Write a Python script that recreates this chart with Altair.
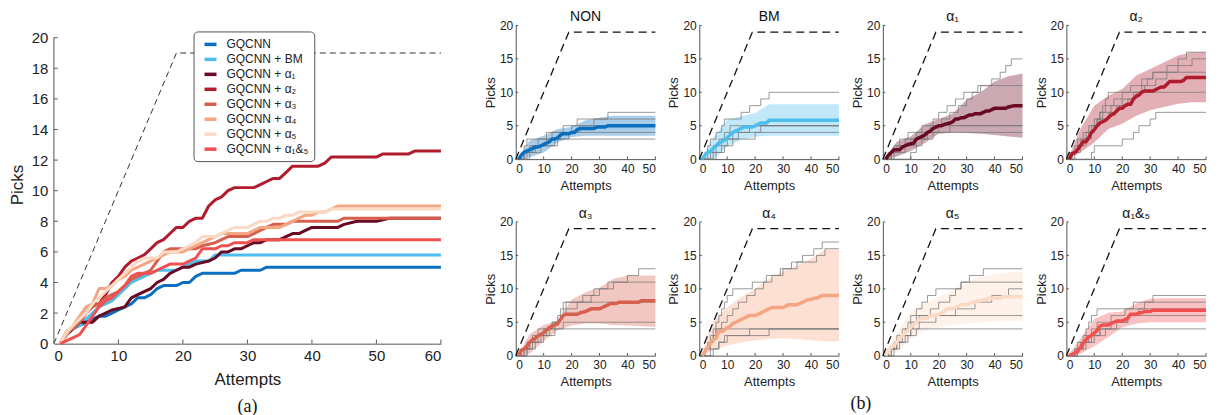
import altair as alt
import pandas as pd

FONT = "Liberation Sans"

# ---------------- series definitions ----------------
series_names = ["GQCNN", "GQCNN + BM", "GQCNN + α₁", "GQCNN + α₂", "GQCNN + α₃",
                "GQCNN + α₄", "GQCNN + α₅", "GQCNN + α₁&₅"]
series_colors = ["#0b6fbf", "#4dbdee", "#6a0a22", "#b01c2e", "#d6604d",
                 "#f4a582", "#fcd9c4", "#f0504f"]
panel_titles = ["NON", "BM", "α₁", "α₂", "α₃", "α₄", "α₅", "α₁&₅"]

# axis tick values
a_xticks = [0, 10, 20, 30, 40, 50, 60]
a_yticks = [0, 2, 4, 6, 8, 10, 12, 14, 16, 18, 20]
b_xticks = [0, 10, 20, 30, 40, 50]
b_yticks = [0, 5, 10, 15, 20]

# optimal (dashed) curve
opt_x_a = [0, 19, 60]
opt_y_a = [0, 19, 19]
opt_x_b = [0, 19, 50]
opt_y_b = [0, 19, 19]

# mean picks vs attempts (breakpoints)
gq_x = [1, 2, 3, 4, 5, 6, 7, 8, 9, 10, 11, 12, 13, 14, 15, 16, 17, 19, 20, 21, 22, 23, 28, 29, 32, 33, 50, 60]
gq_y = [0, 0.6, 1.0, 1.2, 1.4, 1.6, 1.8, 1.8, 2.0, 2.2, 2.4, 2.6, 3.0, 3.0, 3.2, 3.6, 3.8, 3.8, 4.0, 4.0, 4.4, 4.6,
        4.6, 4.8, 4.8, 5.0, 5.0, 5.0]

bm_x = [1, 2, 3, 4, 5, 6, 7, 8, 9, 10, 11, 12, 13, 14, 15, 16, 19, 20, 21, 22, 24, 25, 50, 60]
bm_y = [0, 0.6, 1.0, 1.2, 1.6, 2.0, 2.4, 2.6, 2.8, 3.2, 3.6, 4.0, 4.2, 4.4, 4.6, 4.8, 4.8, 5.0, 5.2, 5.4, 5.4, 5.8,
        5.8, 5.8]

a1_x = [1, 2, 3, 4, 6, 7, 8, 9, 11, 12, 13, 14, 15, 16, 17, 18, 19, 20, 21, 22, 24, 25, 26, 27, 28, 29, 30, 31,
        32, 33, 35, 36, 37, 38, 39, 40, 44, 45, 47, 50, 52, 60]
a1_y = [0, 0.6, 1.0, 1.4, 1.4, 1.8, 2.0, 2.2, 2.4, 3.0, 3.2, 3.4, 3.6, 4.0, 4.2, 4.6, 4.8, 5.0, 5.0, 5.2, 5.4, 5.6,
        6.0, 6.0, 6.2, 6.2, 6.4, 6.6, 6.6, 6.8, 6.8, 7.0, 7.2, 7.2, 7.4, 7.6, 7.6, 7.8, 8.0, 8.0, 8.2, 8.2]

a2_x = [1, 2, 3, 4, 5, 6, 7, 8, 9, 10, 11, 12, 13, 14, 15, 16, 17, 18, 19, 20, 21, 22, 23, 24, 25, 26, 27, 28,
        31, 32, 33, 34, 35, 36, 37, 41, 42, 43, 50, 51, 55, 56, 60]
a2_y = [0, 0.8, 1.0, 1.4, 2.0, 2.6, 2.6, 3.2, 4.0, 4.4, 5.0, 5.4, 5.6, 5.8, 6.2, 6.6, 6.8, 7.2, 7.6, 7.6, 8.0,
        8.2, 8.2, 9.0, 9.4, 9.6, 10.0, 10.2, 10.2, 10.4, 10.6, 10.8, 10.8, 11.2, 11.6, 11.6, 11.8, 12.2, 12.2,
        12.4, 12.4, 12.6, 12.6]

a3_x = [1, 2, 3, 4, 5, 6, 7, 8, 9, 10, 11, 12, 13, 14, 15, 16, 17, 18, 22, 23, 25, 26, 27, 30, 31, 32, 33, 34,
        36, 37, 44, 45, 50, 60]
a3_y = [0, 0.8, 1.0, 1.4, 2.0, 2.4, 2.6, 3.0, 3.2, 3.4, 3.8, 4.2, 4.4, 4.6, 4.8, 5.4, 6.0, 6.2, 6.2, 6.4, 6.6,
        6.8, 7.0, 7.0, 7.2, 7.4, 7.6, 7.8, 7.8, 8.0, 8.0, 8.2, 8.2, 8.2]

a4_x = [1, 2, 3, 4, 5, 6, 7, 8, 9, 10, 11, 12, 13, 14, 15, 16, 17, 18, 20, 21, 22, 23, 24, 25, 26, 30, 31, 32,
        35, 36, 37, 38, 39, 40, 41, 42, 43, 44, 50, 60]
a4_y = [0, 0.6, 1.2, 1.8, 2.4, 2.6, 3.6, 3.6, 3.8, 4.2, 4.4, 4.8, 5.0, 5.2, 5.4, 5.6, 5.8, 6.0, 6.0, 6.2, 6.4,
        6.6, 6.8, 7.0, 7.2, 7.2, 7.4, 7.6, 7.6, 7.8, 8.0, 8.2, 8.4, 8.4, 8.6, 8.6, 8.8, 9.0, 9.0, 9.0]

a5_x = [1, 2, 3, 4, 5, 6, 7, 8, 9, 10, 11, 12, 13, 14, 16, 17, 19, 20, 21, 22, 23, 25, 26, 27, 28, 30, 31, 32,
        33, 34, 35, 36, 37, 38, 42, 43, 50, 60]
a5_y = [0, 0.8, 1.2, 1.6, 2.0, 2.6, 3.0, 3.4, 3.8, 4.2, 4.6, 5.0, 5.4, 5.6, 5.6, 6.0, 6.0, 6.2, 6.4, 6.6, 7.0,
        7.0, 7.2, 7.4, 7.6, 7.6, 7.8, 8.0, 8.0, 8.2, 8.2, 8.4, 8.4, 8.6, 8.6, 8.8, 8.8, 8.8]

a15_x = [1, 2, 3, 4, 5, 6, 7, 8, 9, 10, 11, 12, 13, 15, 16, 17, 18, 20, 21, 22, 23, 25, 26, 27, 28, 30, 31, 50, 60]
a15_y = [0, 0.2, 0.4, 0.6, 1.2, 1.8, 2.4, 2.8, 3.0, 3.4, 3.8, 4.4, 4.6, 4.6, 4.8, 5.0, 5.2, 5.2, 5.4, 5.6, 6.2,
         6.2, 6.4, 6.4, 6.6, 6.6, 6.8, 6.8, 6.8]

mean_x = [gq_x, bm_x, a1_x, a2_x, a3_x, a4_x, a5_x, a15_x]
mean_y = [gq_y, bm_y, a1_y, a2_y, a3_y, a4_y, a5_y, a15_y]

# std bands (lower / upper) for panel b
band_x = [1, 5, 10, 15, 20, 25, 30, 35, 40, 45, 50]
non_lo = [0, 0.3, 1.0, 2.5, 3.3, 3.5, 3.5, 3.5, 3.5, 3.5, 3.5]
non_hi = [0.3, 2.8, 3.5, 4.5, 4.8, 5.8, 6.2, 6.5, 6.5, 6.5, 6.5]
bm_lo = [0, 0.0, 1.9, 2.9, 3.4, 3.5, 3.5, 3.5, 3.5, 3.5, 3.5]
bm_hi = [0.3, 3.2, 5.9, 6.4, 6.9, 8.2, 8.2, 8.2, 8.2, 8.2, 8.2]
a1_lo = [0, 0.4, 1.2, 2.4, 3.8, 4.0, 3.9, 3.8, 3.6, 3.4, 3.2]
a1_hi = [0.3, 2.6, 3.4, 5.2, 6.0, 6.8, 8.9, 10.0, 11.6, 12.4, 12.8]
a2_lo = [0, 1.0, 2.5, 4.5, 5.3, 6.5, 7.3, 7.8, 8.3, 8.5, 8.5]
a2_hi = [0.5, 4.5, 8.0, 9.5, 10.5, 12.5, 13.5, 14.5, 15.5, 16.0, 16.0]
a3_lo = [0, 0.3, 2.2, 3.8, 4.5, 4.8, 4.8, 4.6, 4.5, 4.4, 4.3]
a3_hi = [0.3, 3.2, 4.6, 5.2, 8.4, 9.5, 10.2, 11.5, 12.0, 12.0, 12.0]
a4_lo = [0, 0.8, 1.5, 2.0, 2.3, 2.5, 2.6, 2.5, 2.3, 2.1, 2.1]
a4_hi = [0.5, 5.2, 7.2, 8.8, 10.0, 11.5, 12.6, 13.5, 14.5, 15.9, 15.9]
a5_lo = [0, 0.5, 2.5, 3.8, 4.3, 4.6, 4.8, 5.0, 5.1, 5.2, 5.1]
a5_hi = [0.5, 3.5, 6.5, 8.0, 8.8, 9.8, 11.0, 11.8, 12.2, 12.5, 12.5]
a15_lo = [0, 0.3, 1.4, 2.8, 4.2, 4.8, 5.0, 5.0, 5.0, 5.0, 5.0]
a15_hi = [0.3, 2.5, 5.5, 6.4, 6.6, 7.8, 8.5, 8.6, 8.6, 8.6, 8.6]
band_lo = [non_lo, bm_lo, a1_lo, a2_lo, a3_lo, a4_lo, a5_lo, a15_lo]
band_hi = [non_hi, bm_hi, a1_hi, a2_hi, a3_hi, a4_hi, a5_hi, a15_hi]

# individual trials (step breakpoints: attempt, picks)
non_trials = [
    [(0, 0), (2, 1), (3, 2), (4, 3), (11, 4), (17, 5), (22, 6), (33, 7), (50, 7)],
    [(0, 0), (3, 1), (5, 2), (8, 3), (13, 4), (20, 5), (28, 6), (50, 6)],
    [(0, 0), (4, 1), (6, 2), (11, 3), (16, 4), (23, 5), (50, 5)],
    [(0, 0), (5, 1), (9, 2), (14, 3), (19, 4), (50, 4)],
    [(0, 0), (3, 1), (7, 2), (15, 3), (50, 3)],
]
bm_trials = [
    [(0, 0), (2, 1), (3, 2), (4, 3), (6, 4), (8, 5), (9, 6), (15, 7), (18, 8), (22, 9), (25, 10), (50, 10)],
    [(0, 0), (3, 1), (5, 2), (7, 3), (9, 4), (11, 5), (50, 5)],
    [(0, 0), (4, 1), (6, 2), (8, 3), (12, 4), (18, 5), (50, 5)],
    [(0, 0), (5, 1), (8, 2), (10, 3), (14, 4), (22, 5), (50, 5)],
    [(0, 0), (6, 1), (9, 2), (12, 3), (20, 4), (50, 4)],
]
a1_trials = [
    [(0, 0), (2, 1), (4, 2), (6, 3), (9, 4), (14, 5), (18, 6), (20, 7), (23, 8), (26, 9), (29, 10), (35, 11),
     (39, 12), (42, 13), (44, 14), (46, 15), (50, 15)],
    [(0, 0), (3, 1), (5, 2), (8, 3), (12, 4), (17, 5), (21, 6), (24, 7), (27, 8), (30, 9), (32, 10), (34, 11), (50, 11)],
    [(0, 0), (3, 1), (6, 2), (10, 3), (15, 4), (20, 5), (50, 5)],
    [(0, 0), (4, 1), (8, 2), (12, 3), (16, 4), (24, 5), (50, 5)],
    [(0, 0), (10, 1), (12, 2), (14, 3), (18, 4), (50, 4)],
]
a2_trials = [
    [(0, 0), (1, 1), (3, 2), (4, 3), (6, 4), (8, 5), (10, 6), (12, 7), (14, 8), (17, 9), (20, 10), (23, 11),
     (27, 12), (31, 13), (36, 14), (40, 15), (43, 16), (50, 16)],
    [(0, 0), (2, 1), (4, 2), (6, 3), (8, 4), (10, 5), (12, 6), (15, 7), (18, 8), (22, 9), (25, 10), (28, 11),
     (32, 12), (36, 13), (40, 14), (45, 15), (50, 15)],
    [(0, 0), (2, 1), (4, 2), (5, 3), (7, 4), (9, 5), (11, 6), (13, 7), (16, 8), (20, 9), (24, 10), (27, 11),
     (29, 12), (31, 13), (50, 13)],
    [(0, 0), (3, 1), (5, 2), (7, 3), (9, 4), (10, 5), (11, 6), (12, 7), (13, 8), (14, 9), (15, 10), (50, 10)],
    [(0, 0), (9, 1), (10, 2), (20, 3), (24, 4), (26, 5), (30, 6), (32, 7), (50, 7)],
]
a3_trials = [
    [(0, 0), (2, 1), (4, 2), (6, 3), (8, 4), (13, 5), (15, 6), (16, 7), (17, 8), (24, 9), (28, 10), (33, 11),
     (40, 12), (44, 13), (50, 13)],
    [(0, 0), (3, 1), (5, 2), (7, 3), (10, 4), (13, 5), (16, 6), (17, 7), (18, 8), (27, 9), (30, 10), (35, 11), (50, 11)],
    [(0, 0), (3, 1), (5, 2), (8, 3), (12, 4), (14, 5), (16, 6), (18, 7), (22, 8), (50, 8)],
    [(0, 0), (4, 1), (6, 2), (9, 3), (11, 4), (17, 5), (50, 5)],
    [(0, 0), (4, 1), (7, 2), (10, 3), (14, 4), (50, 4)],
]
a4_trials = [
    [(0, 0), (2, 1), (3, 2), (4, 3), (5, 4), (6, 5), (7, 6), (8, 7), (9, 8), (10, 9), (12, 10), (19, 11),
     (24, 12), (29, 13), (33, 14), (37, 15), (41, 16), (44, 17), (50, 17)],
    [(0, 0), (2, 1), (4, 2), (5, 3), (6, 4), (8, 5), (10, 6), (12, 7), (14, 8), (17, 9), (20, 10), (23, 11),
     (26, 12), (30, 13), (35, 14), (42, 15), (45, 16), (50, 16)],
    [(0, 0), (2, 1), (4, 2), (5, 3), (6, 4), (50, 4)],
    [(0, 0), (4, 1), (7, 2), (10, 3), (18, 4), (50, 4)],
    [(0, 0), (5, 1), (7, 2), (9, 3), (25, 4), (50, 4)],
]
a5_trials = [
    [(0, 0), (2, 1), (4, 2), (5, 3), (7, 4), (9, 5), (10, 6), (12, 7), (14, 8), (16, 9), (19, 10), (28, 11),
     (31, 12), (36, 13), (50, 13)],
    [(0, 0), (2, 1), (4, 2), (6, 3), (8, 4), (10, 5), (12, 6), (17, 7), (20, 8), (24, 9), (26, 10), (28, 11), (50, 11)],
    [(0, 0), (3, 1), (5, 2), (7, 3), (10, 4), (13, 5), (19, 6), (26, 7), (33, 8), (39, 9), (45, 10), (50, 10)],
    [(0, 0), (3, 1), (5, 2), (8, 3), (10, 4), (11, 5), (13, 6), (50, 6)],
    [(0, 0), (4, 1), (6, 2), (9, 3), (12, 4), (50, 4)],
]
a15_trials = [
    [(0, 0), (3, 1), (4, 2), (6, 3), (7, 4), (8, 5), (9, 6), (11, 7), (24, 8), (31, 9), (50, 9)],
    [(0, 0), (3, 1), (5, 2), (7, 3), (9, 4), (11, 5), (16, 6), (21, 7), (28, 8), (50, 8)],
    [(0, 0), (4, 1), (6, 2), (8, 3), (12, 4), (16, 5), (22, 6), (26, 7), (50, 7)],
    [(0, 0), (4, 1), (6, 2), (10, 3), (14, 4), (18, 5), (22, 6), (50, 6)],
    [(0, 0), (4, 1), (7, 2), (9, 3), (12, 4), (50, 4)],
]
trials = [non_trials, bm_trials, a1_trials, a2_trials, a3_trials, a4_trials, a5_trials, a15_trials]


def tick_layers(xscale, yscale, xaxis, yaxis, xticks, yticks, xlen, ylen, color):
    """Small inward tick marks, drawn through the chart's own scales."""
    xt = alt.Chart(pd.DataFrame({"v": xticks, "y0": [0] * len(xticks), "y1": [ylen] * len(xticks)})).mark_rule(
        color=color, strokeWidth=1
    ).encode(x=alt.X("v:Q", scale=xscale, axis=xaxis), y=alt.Y("y0:Q", scale=yscale, axis=yaxis), y2="y1:Q")
    yt = alt.Chart(pd.DataFrame({"v": yticks, "x0": [0] * len(yticks), "x1": [xlen] * len(yticks)})).mark_rule(
        color=color, strokeWidth=1
    ).encode(y=alt.Y("v:Q", scale=yscale, axis=yaxis), x=alt.X("x0:Q", scale=xscale, axis=xaxis), x2="x1:Q")
    return [xt, yt]


# ---------------- panel (a) ----------------
A_W, A_H = 388, 319
a_xscale = alt.Scale(domain=[0, 60], nice=False)
a_yscale = alt.Scale(domain=[0, 20.8], nice=False)

rows = []
for name, xs_, ys_ in zip(series_names, mean_x, mean_y):
    for xv, yv in zip(xs_, ys_):
        rows.append({"series": name, "x": xv, "y": yv})
mean_df = pd.DataFrame(rows)

a_xaxis = alt.Axis(values=a_xticks, tickCount=7, title="Attempts", labelFontSize=15,
                   titleFontSize=17, labelPadding=5, titlePadding=8, ticks=False, labelOverlap=False)
a_yaxis = alt.Axis(values=a_yticks, tickCount=11, title="Picks", labelFontSize=15,
                   titleFontSize=17, labelPadding=6, titlePadding=5, domain=False, ticks=False,
                   labelOverlap=False)

opt_a = alt.Chart(pd.DataFrame({"x": opt_x_a, "y": opt_y_a})).mark_line(
    color="#333333", strokeWidth=1, strokeDash=[6, 4]
).encode(x=alt.X("x:Q", scale=a_xscale, axis=a_xaxis), y=alt.Y("y:Q", scale=a_yscale, axis=a_yaxis))

yline_a = alt.Chart(pd.DataFrame({"x": [0], "y": [0], "y2": [20]})).mark_rule(
    color="#555555", strokeWidth=1
).encode(x=alt.X("x:Q", scale=a_xscale, axis=a_xaxis), y=alt.Y("y:Q", scale=a_yscale, axis=a_yaxis), y2="y2:Q")

lines_a = alt.Chart(mean_df).mark_line(strokeWidth=3, strokeJoin="round").encode(
    x=alt.X("x:Q", scale=a_xscale, axis=a_xaxis),
    y=alt.Y("y:Q", scale=a_yscale, axis=a_yaxis),
    color=alt.Color(
        "series:N",
        scale=alt.Scale(domain=series_names, range=series_colors),
        sort=series_names,
        legend=alt.Legend(
            orient="none", legendX=140, legendY=6, title=None, symbolType="stroke",
            symbolStrokeWidth=3.5, symbolSize=144, labelFontSize=12, labelFont=FONT,
            labelColor="#222222", strokeColor="#555555", fillColor="white", padding=5,
            cornerRadius=4, rowPadding=-1, labelLimit=200, symbolOffset=4, labelOffset=8,
        ),
    ),
)

label_a = alt.Chart(pd.DataFrame({"t": ["(a)"]})).mark_text(
    font="Liberation Serif", fontSize=18, color="#111111"
).encode(text="t:N", x=alt.value(194), y=alt.value(382))

ticks_a = tick_layers(a_xscale, a_yscale, a_xaxis, a_yaxis, a_xticks[1:], a_yticks[1:], 0.6, 0.27, "#555555")

chart_a = alt.layer(opt_a, yline_a, *ticks_a, lines_a, label_a).properties(width=A_W, height=A_H)

# ---------------- panel (b) ----------------
P_W, P_H = 140, 134
b_xscale = alt.Scale(domain=[0, 50], nice=False)
b_yscale = alt.Scale(domain=[0, 20], nice=False)
b_xaxis = alt.Axis(values=b_xticks, tickCount=6, title="Attempts", labelFontSize=12,
                   titleFontSize=13, labelPadding=4, titlePadding=5, ticks=False, labelOverlap=False)
b_yaxis = alt.Axis(values=b_yticks, tickCount=5, title="Picks", labelFontSize=12, titleFontSize=13,
                   labelPadding=3, titlePadding=2, ticks=False, labelOverlap=False)


def make_panel(i):
    color = series_colors[i]
    X = alt.X("x:Q", scale=b_xscale, axis=b_xaxis)
    bdf = pd.DataFrame({"x": band_x, "lo": band_lo[i], "hi": band_hi[i]})
    band = alt.Chart(bdf).mark_area(color=color, opacity=0.35).encode(
        x=X, y=alt.Y("lo:Q", scale=b_yscale, axis=b_yaxis), y2="hi:Q")
    trows = []
    for k, tr in enumerate(trials[i]):
        for xv, yv in tr:
            trows.append({"trial": k, "x": xv, "y": yv})
    tl = alt.Chart(pd.DataFrame(trows)).mark_line(
        interpolate="step-after", color="#777777", strokeWidth=1, opacity=0.75
    ).encode(x=X, y=alt.Y("y:Q", scale=b_yscale, axis=b_yaxis), detail="trial:N")
    mdf = pd.DataFrame({"x": mean_x[i], "y": mean_y[i]})
    mdf = mdf[mdf["x"] <= 50]
    ml = alt.Chart(mdf).mark_line(color=color, strokeWidth=3.5).encode(
        x=X, y=alt.Y("y:Q", scale=b_yscale, axis=b_yaxis))
    opt = alt.Chart(pd.DataFrame({"x": opt_x_b, "y": opt_y_b})).mark_line(
        color="#111111", strokeWidth=1.3, strokeDash=[8, 5]
    ).encode(x=X, y=alt.Y("y:Q", scale=b_yscale, axis=b_yaxis))
    tk = tick_layers(b_xscale, b_yscale, b_xaxis, b_yaxis, b_xticks[1:], b_yticks[1:], 0.9, 0.4, "#555555")
    layers = [band, tl, *tk, ml, opt]
    if i == 5:
        lb = alt.Chart(pd.DataFrame({"t": ["(b)"]})).mark_text(
            font="Liberation Serif", fontSize=18, color="#111111"
        ).encode(text="t:N", x=alt.value(162), y=alt.value(48 + P_H))
        layers.append(lb)
    return alt.layer(*layers).properties(
        width=P_W, height=P_H,
        title=alt.TitleParams(panel_titles[i], fontSize=14, font=FONT, fontWeight="normal",
                              offset=-5, color="#111111"),
    )


panels = [make_panel(i) for i in range(8)]
grid = alt.concat(*panels, columns=4, spacing={"row": 63, "column": 44}, bounds="flush")

chart = alt.hconcat(chart_a, grid, spacing=75, bounds="flush").resolve_scale(
    x="independent", y="independent"
).properties(
    padding={"left": 0, "top": 2, "right": 0, "bottom": 0}
).configure_view(stroke=None).configure_axis(
    grid=False, labelFont=FONT, titleFont=FONT, domainColor="#555555", labelColor="#222222",
    titleColor="#222222", titleFontWeight="normal", labelOverlap=False
)

chart.save("out.html", embed_options={"renderer": "svg", "actions": False})
